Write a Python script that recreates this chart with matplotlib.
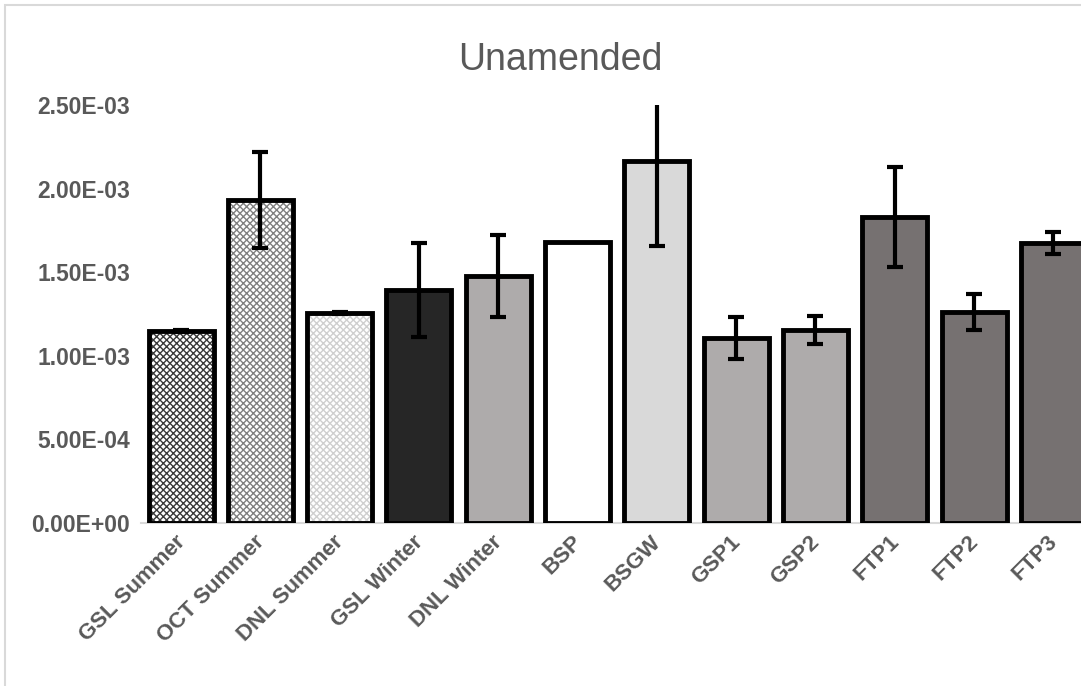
import numpy as np
import matplotlib
matplotlib.use('Agg')
from matplotlib import pyplot as plt
from matplotlib.patches import Rectangle

# 数据
categories = ['GSL Summer', 'OCT Summer', 'DNL Summer', 'GSL Winter', 'DNL Winter',
              'BSP', 'BSGW', 'GSP1', 'GSP2', 'FTP1', 'FTP2', 'FTP3']
values = [1.148e-3, 1.932e-3, 1.256e-3, 1.394e-3, 1.477e-3, 1.681e-3,
          2.165e-3, 1.106e-3, 1.154e-3, 1.830e-3, 1.262e-3, 1.675e-3]
errors = [0.005e-3, 0.287e-3, 0.008e-3, 0.280e-3, 0.245e-3, 0.0,
          0.510e-3, 0.125e-3, 0.084e-3, 0.300e-3, 0.108e-3, 0.066e-3]
fills = ['white', 'white', 'white', '#262626', '#aeabab', 'white',
         '#d9d9d9', '#aeabab', '#aeabab', '#767171', '#767171', '#767171']
hatches = ['xxxxx', 'xxxxx', 'xxxxx', None, None, None, None, None, None, None, None, None]
hatch_colors = ['#3a3a3a', '#808080', '#cfcfcf'] + [None] * 9
yticks = [0, 5e-4, 1e-3, 1.5e-3, 2e-3, 2.5e-3]
ytick_labels = ['0.00E+00', '5.00E-04', '1.00E-03', '1.50E-03', '2.00E-03', '2.50E-03']

plt.rcParams['font.family'] = ['Liberation Sans', 'DejaVu Sans']
plt.rcParams['hatch.linewidth'] = 1.0

W, H = 1081, 686
fig = plt.figure(figsize=(W / 100, H / 100), dpi=100)
fig.patches.append(Rectangle((5 / W, -0.1), 1.2, (H - 5) / H + 0.1, transform=fig.transFigure,
                             fill=False, edgecolor='#d9d9d9', linewidth=1.5))

ax = fig.add_axes([141.4 / W, (H - 523) / H, 951.6 / W, 418 / H])
x = np.arange(len(categories))

# 图案填充
for i in range(len(categories)):
    if hatches[i]:
        ax.bar(x[i], values[i], width=0.82, color='white', edgecolor=hatch_colors[i],
               hatch=hatches[i], linewidth=0, zorder=2)
    else:
        ax.bar(x[i], values[i], width=0.82, color=fills[i], linewidth=0, zorder=2)
ax.bar(x, values, width=0.82, fill=False, edgecolor='black', linewidth=3.5, zorder=3)

ex = [i for i in range(len(categories)) if errors[i] > 0]
ax.errorbar(x[ex], np.array(values)[ex], yerr=np.array(errors)[ex], fmt='none',
            ecolor='black', elinewidth=3, capsize=5.5, capthick=3, zorder=4)

ax.set_xlim(-0.5, len(categories) - 0.5)
ax.set_ylim(0, 2.5e-3)
ax.set_yticks(yticks)
ax.set_yticklabels(ytick_labels, fontsize=16.5, fontweight='bold', color='#595959')
# 标签稍微左移
ax.set_xticks(x - 0.08)
ax.set_xticklabels(categories, fontsize=16, fontweight='bold', color='#595959',
                   rotation=45, ha='right', rotation_mode='anchor')
ax.tick_params(axis='y', length=0, pad=8)
ax.tick_params(axis='x', length=0, pad=6)
for s in ['top', 'right', 'left']:
    ax.spines[s].set_visible(False)
ax.spines['bottom'].set_color('#d9d9d9')
ax.spines['bottom'].set_linewidth(1.5)
ax.spines['bottom'].set_zorder(1)

fig.text(560 / W, 1 - 60 / H, 'Unamended', fontsize=27, color='#595959', ha='center', va='center')

plt.savefig('out.png', dpi=100)
